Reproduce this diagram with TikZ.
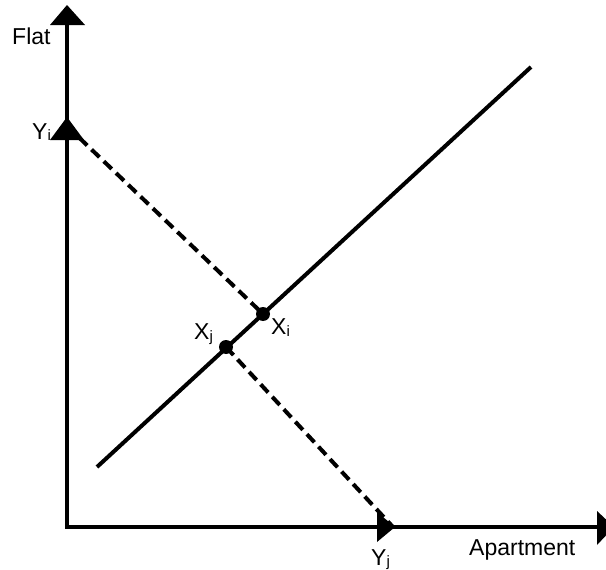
\documentclass[tikz,border=0pt]{standalone}
\usepackage{fontspec}
\setmainfont{Liberation Sans}
\begin{document}
\begin{tikzpicture}[x=1pt,y=-1pt,
  axis/.style={line width=4pt,line join=miter},
  solidline/.style={line width=4pt},
  dashline/.style={line width=4pt,dash pattern=on 11pt off 6pt},
  head/.style={fill=black},
  dot/.style={circle,fill=black,inner sep=0pt,minimum size=14pt},
  lbl/.style={anchor=base west,inner sep=0pt,font=\fontsize{23}{27}\selectfont},
  sub/.style={}]
\useasboundingbox (0,0) rectangle (606,570);
\clip (0,0) rectangle (606,570);
% axes
\coordinate (O) at (67,527);
\coordinate (Ytop) at (67,8);
\coordinate (Xend) at (604,527);
\draw[axis] (Ytop) -- (O) -- (Xend);
% arrowheads
\coordinate (Yi) at (67,126);
\coordinate (Yj) at (393,527);
\fill[head] (67,5) -- (85,25) -- (50,25) -- cycle;
\fill[head] (67,117) -- (84,140) -- (50,140) -- cycle;
\fill[head] (395,527) -- (377,512) -- (377,542) -- cycle;
\fill[head] (614,527) -- (597,511) -- (597,545) -- cycle;
% solid line
\coordinate (A) at (97,467);
\coordinate (B) at (531,67);
\draw[solidline] (A) -- (B);
% points
\node[dot] (Xi) at (263,314) {};
\node[dot] (Xj) at (226,347) {};
% dashed lines
\draw[dashline] (Yi) -- (Xi.center);
\draw[dashline] (Xj.center) -- (Yj);
% labels
\node[lbl] (lflat) at (12,45) {Flat};
\node[lbl] (lyi) at (32,139) {Y\raisebox{-1.5pt}{\fontsize{15}{15}\selectfont i}};
\node[lbl] (lxj) at (194,339) {X\raisebox{-2.5pt}{\fontsize{15}{15}\selectfont j}};
\node[lbl] (lxi) at (271,334) {X\raisebox{-2.5pt}{\fontsize{15}{15}\selectfont i}};
\node[lbl] (lyj) at (371,565) {Y\raisebox{-1.5pt}{\fontsize{15}{15}\selectfont j}};
\node[lbl] (lap) at (469,555) {Apartment};
\end{tikzpicture}
\end{document}
